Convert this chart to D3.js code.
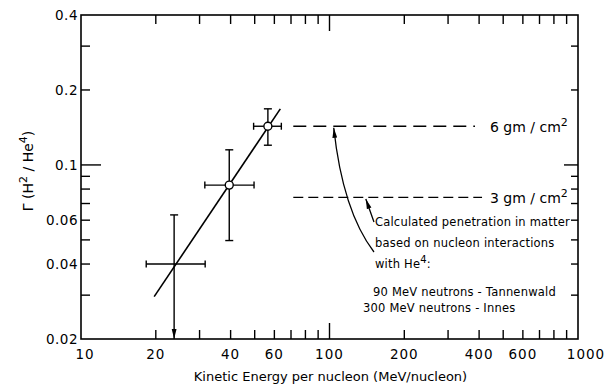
<!DOCTYPE html>
<html>
<head>
<meta charset="utf-8">
<script src="https://cdn.jsdelivr.net/npm/d3@7"></script>
<style>
  body { margin: 0; background: #fff; }
  svg { font-family: 'DejaVu Sans', sans-serif; }
</style>
</head>
<body>
<div id="chart"></div>
<script>
// Measured points (energy in MeV/nucleon, ratio H2/He4)
const energy = [23.7, 39.5, 56.5];
const energyLo = [18.3, 31.5, 49.5];
const energyHi = [31.6, 49.7, 64];
const ratio = [0.040, 0.083, 0.143];
const ratioLo = [0.02, 0.0497, 0.12];
const ratioHi = [0.063, 0.115, 0.168];
const upperLimit = [true, false, false];
const openMarker = [false, true, true];

// Fitted line end points
const fitEnergy = [19.7, 63.4];
const fitRatio = [0.0296, 0.168];

// Calculated penetration levels
const depthLabels = ['6', '3'];
const depthRatio = [0.143, 0.0741];
const depthFrom = [71.5, 71.5];
const depthTo = [385, 411];

// Axis ticks
const xTickLabels = [10, 20, 40, 60, 100, 200, 400, 600, 1000];
const xMinorTicks = [20, 30, 40, 50, 60, 70, 80, 90, 200, 300, 400, 500, 600, 700, 800, 900];
const yTickLabels = [0.4, 0.2, 0.1, 0.06, 0.04, 0.02];
const yMinorTicks = [0.03, 0.04, 0.05, 0.06, 0.07, 0.08, 0.09, 0.2, 0.3];

const noteLines = ['Calculated penetration in matter', 'based on nucleon interactions'];

const width = 610, height = 387;
const margin = { top: 15, right: 32, bottom: 48, left: 81 };

const svg = d3.select('#chart').append('svg')
    .attr('width', width)
    .attr('height', height);

const x = d3.scaleLog().domain([10, 1000]).range([margin.left, width - margin.right]);
const y = d3.scaleLog().domain([0.02, 0.4]).range([height - margin.bottom, margin.top]);

const x0 = x(10), x1 = x(1000), y0 = y(0.02), y1 = y(0.4);

// arrow marker
const defs = svg.append('defs');
defs.append('marker')
    .attr('id', 'head')
    .attr('viewBox', '0 0 10 6')
    .attr('refX', 10).attr('refY', 3)
    .attr('markerWidth', 10).attr('markerHeight', 6)
    .attr('markerUnits', 'userSpaceOnUse')
    .attr('orient', 'auto')
    .append('path')
    .attr('d', 'M0,0.6 L10,3 L0,5.4 Z')
    .attr('fill', '#000');

// frame
svg.append('rect')
    .attr('x', x0).attr('y', y1)
    .attr('width', x1 - x0).attr('height', y0 - y1)
    .attr('fill', 'none').attr('stroke', '#000').attr('stroke-width', 1.6);

const ticks = svg.append('g').attr('stroke', '#000').attr('stroke-width', 1.4);

// x ticks bottom and top
const xAll = xMinorTicks.concat([100]);
xAll.forEach(v => {
    const len = v === 100 ? 16 : 9;
    ticks.append('line').attr('x1', x(v)).attr('x2', x(v)).attr('y1', y0).attr('y2', y0 - len);
    ticks.append('line').attr('x1', x(v)).attr('x2', x(v)).attr('y1', y1).attr('y2', y1 + len);
});

// y ticks left and right
const yAll = yMinorTicks.concat([0.1]);
yAll.forEach(v => {
    ticks.append('line').attr('x1', x0).attr('x2', x0 + (v === 0.1 ? 20 : 9)).attr('y1', y(v)).attr('y2', y(v));
    ticks.append('line').attr('x1', x1).attr('x2', x1 - (v === 0.1 ? 14 : 7)).attr('y1', y(v)).attr('y2', y(v));
});

// tick labels
svg.append('g').selectAll('text')
    .data(xTickLabels)
    .join('text')
    .attr('x', d => x(d) + (d === 10 ? 4 : 0) + (d === 1000 ? 8 : 0))
    .attr('y', y0 + 20)
    .attr('text-anchor', 'middle')
    .attr('font-size', 13.5)
    .attr('letter-spacing', 1)
    .text(d => d);

svg.append('g').selectAll('text')
    .data(yTickLabels)
    .join('text')
    .attr('x', x0 - 3)
    .attr('y', d => y(d) + 5)
    .attr('text-anchor', 'end')
    .attr('font-size', 13.5)
    .attr('letter-spacing', 0.5)
    .text(d => String(d));

// axis titles
svg.append('text')
    .attr('x', (x0 + x1) / 2 + 1)
    .attr('y', height - 6)
    .attr('text-anchor', 'middle')
    .attr('font-size', 13)
    .text('Kinetic Energy per nucleon (MeV/nucleon)');

const yTitle = svg.append('text')
    .attr('transform', `translate(33, ${(y0 + y1) / 2 - 6}) rotate(-90)`)
    .attr('text-anchor', 'middle')
    .attr('font-size', 14);
yTitle.append('tspan').text('Γ (H');
yTitle.append('tspan').attr('dy', -6).attr('font-size', 11).text('2');
yTitle.append('tspan').attr('dy', 6).text(' / He');
yTitle.append('tspan').attr('dy', -6).attr('font-size', 11).text('4');
yTitle.append('tspan').attr('dy', 6).text(')');

// fit line
svg.append('line')
    .attr('x1', x(fitEnergy[0])).attr('y1', y(fitRatio[0]))
    .attr('x2', x(fitEnergy[1])).attr('y2', y(fitRatio[1]))
    .attr('stroke', '#000').attr('stroke-width', 1.6);

// error bars
const pts = energy.map((e, i) => ({
    e, r: ratio[i], eLo: energyLo[i], eHi: energyHi[i],
    rLo: ratioLo[i], rHi: ratioHi[i], limit: upperLimit[i], open: openMarker[i]
}));

const bars = svg.append('g').attr('stroke', '#000').attr('stroke-width', 1.4).attr('fill', 'none');
pts.forEach(p => {
    const cx = x(p.e), cy = y(p.r);
    bars.append('line').attr('x1', x(p.eLo)).attr('x2', x(p.eHi)).attr('y1', cy).attr('y2', cy);
    bars.append('line').attr('x1', x(p.eLo)).attr('x2', x(p.eLo)).attr('y1', cy - 3.5).attr('y2', cy + 3.5);
    bars.append('line').attr('x1', x(p.eHi)).attr('x2', x(p.eHi)).attr('y1', cy - 3.5).attr('y2', cy + 3.5);
    bars.append('line').attr('x1', cx).attr('x2', cx).attr('y1', y(p.rHi)).attr('y2', y(p.rLo))
        .attr('marker-end', p.limit ? 'url(#head)' : null);
    bars.append('line').attr('x1', cx - 4).attr('x2', cx + 4).attr('y1', y(p.rHi)).attr('y2', y(p.rHi));
    if (!p.limit) {
        bars.append('line').attr('x1', cx - 4).attr('x2', cx + 4).attr('y1', y(p.rLo)).attr('y2', y(p.rLo));
    }
    if (p.open) {
        svg.append('circle').attr('cx', cx).attr('cy', cy).attr('r', 4)
            .attr('fill', '#fff').attr('stroke', '#000').attr('stroke-width', 1.4);
    }
});

// penetration dashed levels
depthRatio.forEach((r, i) => {
    svg.append('line')
        .attr('x1', x(depthFrom[i])).attr('x2', x(depthTo[i]))
        .attr('y1', y(r)).attr('y2', y(r))
        .attr('stroke', '#000').attr('stroke-width', 1.4)
        .attr('stroke-dasharray', i === 0 ? '13,7' : '10,5');
    const t = svg.append('text')
        .attr('x', 490)
        .attr('y', y(r) + 6)
        .attr('font-size', 14);
    t.append('tspan').text(depthLabels[i] + '  gm / cm');
    t.append('tspan').attr('dy', -6).attr('font-size', 11).text('2');
});

// curved arrows to the levels
const arrowLong = [[151, 0.0447], [113, 0.0653], [104, 0.141]];
const arrowShort = [[151, 0.059], [140, 0.073]];
svg.append('path')
    .attr('d', `M${x(arrowLong[0][0])},${y(arrowLong[0][1])} Q${x(arrowLong[1][0])},${y(arrowLong[1][1])} ${x(arrowLong[2][0])},${y(arrowLong[2][1])}`)
    .attr('fill', 'none').attr('stroke', '#000').attr('stroke-width', 1.3)
    .attr('marker-end', 'url(#head)');
svg.append('path')
    .attr('d', `M${x(arrowShort[0][0])},${y(arrowShort[0][1])} L${x(arrowShort[1][0])},${y(arrowShort[1][1])}`)
    .attr('fill', 'none').attr('stroke', '#000').attr('stroke-width', 1.3)
    .attr('marker-end', 'url(#head)');

// annotation text
const note = svg.append('g').attr('font-size', 11.5).attr('letter-spacing', 0.2);
noteLines.forEach((s, i) => {
    note.append('text').attr('x', 375).attr('y', 226 + i * 21).text(s);
});
const he = note.append('text').attr('x', 375).attr('y', 268);
he.append('tspan').text('with He');
he.append('tspan').attr('dy', -5).attr('font-size', 10).text('4');
he.append('tspan').attr('dy', 5).text(':');
note.append('text').attr('x', 373).attr('y', 296).text('90 MeV neutrons - Tannenwald');
note.append('text').attr('x', 363).attr('y', 312).text('300 MeV neutrons - Innes');
</script>
</body>
</html>
